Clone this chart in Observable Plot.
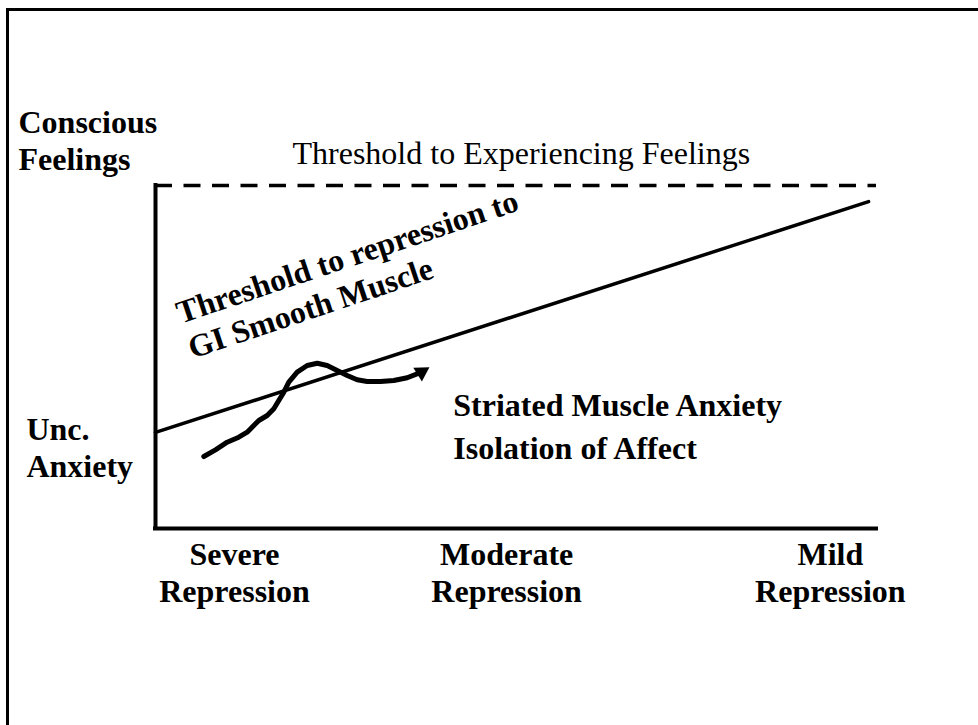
<!DOCTYPE html>
<html><head><meta charset="utf-8">
<script src="https://cdn.jsdelivr.net/npm/d3@7"></script>
<script src="https://cdn.jsdelivr.net/npm/@observablehq/plot@0.6"></script>
<style>
html,body{margin:0;padding:0;background:#fff;}
#wrap{position:relative;width:978px;height:725px;overflow:hidden;}
#border{position:absolute;left:6px;top:8px;width:1200px;height:1200px;border-left:3px solid #000;border-top:3px solid #000;box-sizing:border-box;pointer-events:none;}
</style></head><body>
<div id="wrap"><div id="chart"></div><div id="border"></div></div>
<script>
// x: degree of repression (0 = severe, 100 = mild); y: level of awareness (0 = unconscious anxiety, 100 = conscious feelings)
const xTickPositions = [10.96, 48.7, 93.6];
const xTickLabels = ["Severe\nRepression", "Moderate\nRepression", "Mild\nRepression"];

const yLabels = ["Conscious\nFeelings", "Unc.\nAnxiety"];
const yLabelX = [-19.0, -17.9];
const yLabelY = [104.4, 14.9];

const feelingsThresholdY = [100];
const feelingsThresholdLabel = "Threshold to Experiencing Feelings";
const feelingsLabelX = 19.0;
const feelingsLabelY = 106.4;

const repressionThresholdX = [0, 98.9];
const repressionThresholdY = [28.0, 95.3];
const repressionLabel = "Threshold to repression to\nGI Smooth Muscle";
const repressionLabelX = 5.13;
const repressionLabelY = 49.5;

const anxietyLabel = "Striated Muscle Anxiety\nIsolation of Affect";
const anxietyLabelX = 41.3;
const anxietyLabelY = 20.4;

const pathX = [6.70, 8.32, 9.94, 11.55, 12.72, 13.63, 14.33, 15.49, 16.41, 17.10, 17.80, 18.49, 19.65, 21.04, 22.43, 23.81, 25.20, 26.59, 27.97, 29.36, 31.21, 33.05, 34.91, 36.9];
const pathY = [20.99, 22.94, 25.16, 26.62, 28.08, 30.03, 31.49, 32.94, 34.90, 37.32, 39.74, 42.65, 45.57, 47.52, 48.19, 47.52, 46.06, 44.61, 43.35, 42.86, 42.86, 43.15, 43.94, 45.6];

const FONT = "'Liberation Serif', 'Times New Roman', serif";
const tickMap = new Map(xTickPositions.map((p, i) => [p, xTickLabels[i]]));
const repressionLine = repressionThresholdX.map((x, i) => ({x, y: repressionThresholdY[i]}));
const path = pathX.map((x, i) => ({x, y: pathY[i]}));
const arrowHead = [path[path.length - 1]];

const chart = Plot.plot({
  width: 978,
  height: 725,
  marginLeft: 155,
  marginRight: 102,
  marginTop: 185,
  marginBottom: 197,
  style: {fontFamily: FONT, background: "white", overflow: "visible", color: "black"},
  x: {domain: [0, 100], label: null},
  y: {domain: [0, 100], axis: null, label: null},
  marks: [
    Plot.ruleY(feelingsThresholdY, {stroke: "black", strokeWidth: 3.5, strokeDasharray: "17,11.5"}),
    Plot.ruleX([0], {stroke: "black", strokeWidth: 4, strokeLinecap: "square"}),
    Plot.ruleY([0], {stroke: "black", strokeWidth: 4, strokeLinecap: "square"}),
    Plot.line(repressionLine, {x: "x", y: "y", stroke: "black", strokeWidth: 3.5}),
    Plot.line(path, {x: "x", y: "y", stroke: "black", strokeWidth: 5, strokeLinejoin: "round", curve: "linear"}),
    Plot.dot(arrowHead, {x: "x", y: "y", symbol: "triangle", r: 6, fill: "black", stroke: "none", rotate: 58}),
    Plot.axisX(xTickPositions, {tickSize: 0, tickPadding: 10, tickFormat: d => tickMap.get(d), fontSize: 32, fontWeight: "bold", lineHeight: 1.156, label: null, fill: "black"}),
    Plot.text(yLabels, {x: (d, i) => yLabelX[i], y: (d, i) => yLabelY[i], text: d => d, textAnchor: "start", lineAnchor: "bottom", fontSize: 32, fontWeight: "bold", lineHeight: 1.156, fill: "black"}),
    Plot.text([feelingsThresholdLabel], {x: () => feelingsLabelX, y: () => feelingsLabelY, text: d => d, textAnchor: "start", lineAnchor: "bottom", fontSize: 32, fill: "black"}),
    Plot.text([repressionLabel], {x: () => repressionLabelX, y: () => repressionLabelY, text: d => d, textAnchor: "start", lineAnchor: "bottom", rotate: -18.5, fontSize: 32, fontWeight: "bold", lineHeight: 1.156, fill: "black"}),
    Plot.text([anxietyLabel], {x: () => anxietyLabelX, y: () => anxietyLabelY, text: d => d, textAnchor: "start", lineAnchor: "bottom", fontSize: 32, fontWeight: "bold", lineHeight: 1.33, fill: "black"})
  ]
});
document.getElementById("chart").appendChild(chart);
</script>
</body></html>
